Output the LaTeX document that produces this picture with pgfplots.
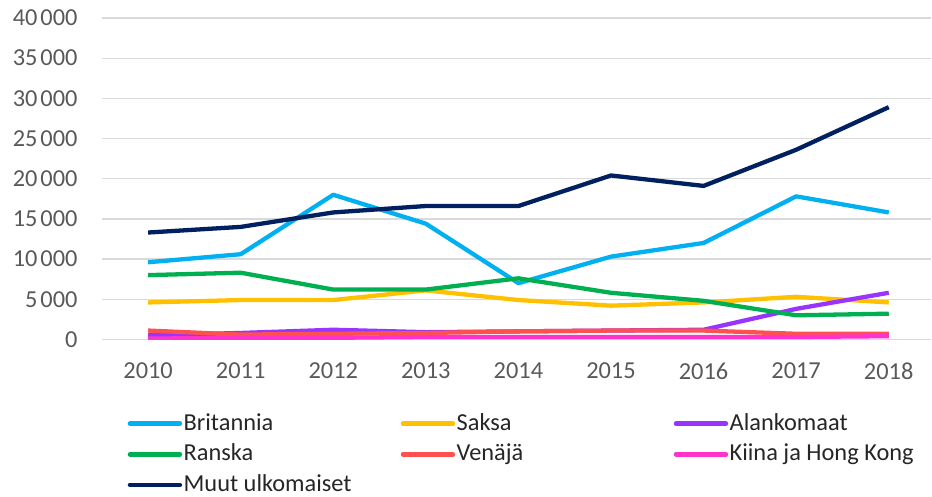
\documentclass[border=0pt]{standalone}
\usepackage{pgfplots}
\pgfplotsset{compat=1.18}
\usepackage{fontspec}
\setmainfont{Carlito}
\definecolor{cBrit}{HTML}{00B0F0}
\definecolor{cSaksa}{HTML}{FFC000}
\definecolor{cAlan}{HTML}{9933FF}
\definecolor{cRanska}{HTML}{00B050}
\definecolor{cVen}{HTML}{FF5050}
\definecolor{cKiina}{HTML}{FF33CC}
\definecolor{cMuut}{HTML}{002060}
\definecolor{cTick}{HTML}{595959}
\definecolor{cGrid}{HTML}{D9D9D9}
\begin{document}
\fontsize{24.5}{29}\selectfont
\begin{tikzpicture}
\begin{axis}[
  scale only axis,
  width=831bp, height=322bp,
  xmin=2009.5, xmax=2018.46,
  ymin=0, ymax=40000,
  xtick={2010,...,2018},
  ytick={0,5000,...,40000},
  scaled y ticks=false,
  /pgf/number format/.cd, 1000 sep={\kern0.12em}, assume math mode=true, /pgfplots/.cd,
  xticklabel={\pgfmathprintnumber[1000 sep=]{\tick}},
  axis line style={draw=none},
  major tick length=0pt,
  ymajorgrids,
  grid style={cGrid, line width=1.3bp},
  tick label style={text=cTick, font=\fontsize{24.5}{29}\selectfont},
  yticklabel style={xshift=-16bp},
  xticklabel style={yshift=-15bp},
  legend columns=3,
  legend cell align=left,
  legend style={draw=none, fill=none, at={(axis description cs:0.031,-0.225)}, anchor=north west,
    font=\fontsize{24.5}{29}\selectfont, text=black!85,
    /tikz/every even column/.append style={column sep=0bp},
    row sep=7bp, inner sep=0pt,
    nodes={inner sep=1.5bp}},
  legend image code/.code={\draw[#1, line width=4.5bp, line cap=round] (0bp,0bp) -- (50bp,0bp);},
  every axis plot/.append style={line width=4.3bp, line join=round},
]
\addplot[cBrit] coordinates {(2010,9600) (2011,10600) (2012,18000) (2013,14400) (2014,7000) (2015,10300) (2016,12000) (2017,17800) (2018,15800)};
\addlegendentry{\makebox[216bp][l]{Britannia}}
\addplot[cSaksa] coordinates {(2010,4600) (2011,4900) (2012,4900) (2013,6100) (2014,4900) (2015,4200) (2016,4600) (2017,5300) (2018,4600)};
\addlegendentry{\makebox[216bp][l]{Saksa}}
\addplot[cAlan] coordinates {(2010,500) (2011,800) (2012,1200) (2013,900) (2014,1000) (2015,1100) (2016,1200) (2017,3800) (2018,5800)};
\addlegendentry{Alankomaat}
\addplot[cRanska] coordinates {(2010,8000) (2011,8300) (2012,6200) (2013,6200) (2014,7600) (2015,5800) (2016,4800) (2017,3000) (2018,3200)};
\addlegendentry{\makebox[216bp][l]{Ranska}}
\addplot[cVen] coordinates {(2010,1100) (2011,600) (2012,700) (2013,800) (2014,1000) (2015,1100) (2016,1100) (2017,700) (2018,700)};
\addlegendentry{\makebox[216bp][l]{Venäjä}}
\addplot[cKiina] coordinates {(2010,100) (2011,200) (2012,200) (2013,300) (2014,300) (2015,300) (2016,300) (2017,300) (2018,400)};
\addlegendentry{Kiina ja Hong Kong}
\addplot[cMuut] coordinates {(2010,13300) (2011,14000) (2012,15800) (2013,16600) (2014,16600) (2015,20400) (2016,19100) (2017,23600) (2018,28900)};
\addlegendentry{Muut ulkomaiset}
\end{axis}
\path (current axis.south west) ++(-102bp,-152bp);
\path (current axis.north west) ++(0bp,18bp);
\end{tikzpicture}
\end{document}
